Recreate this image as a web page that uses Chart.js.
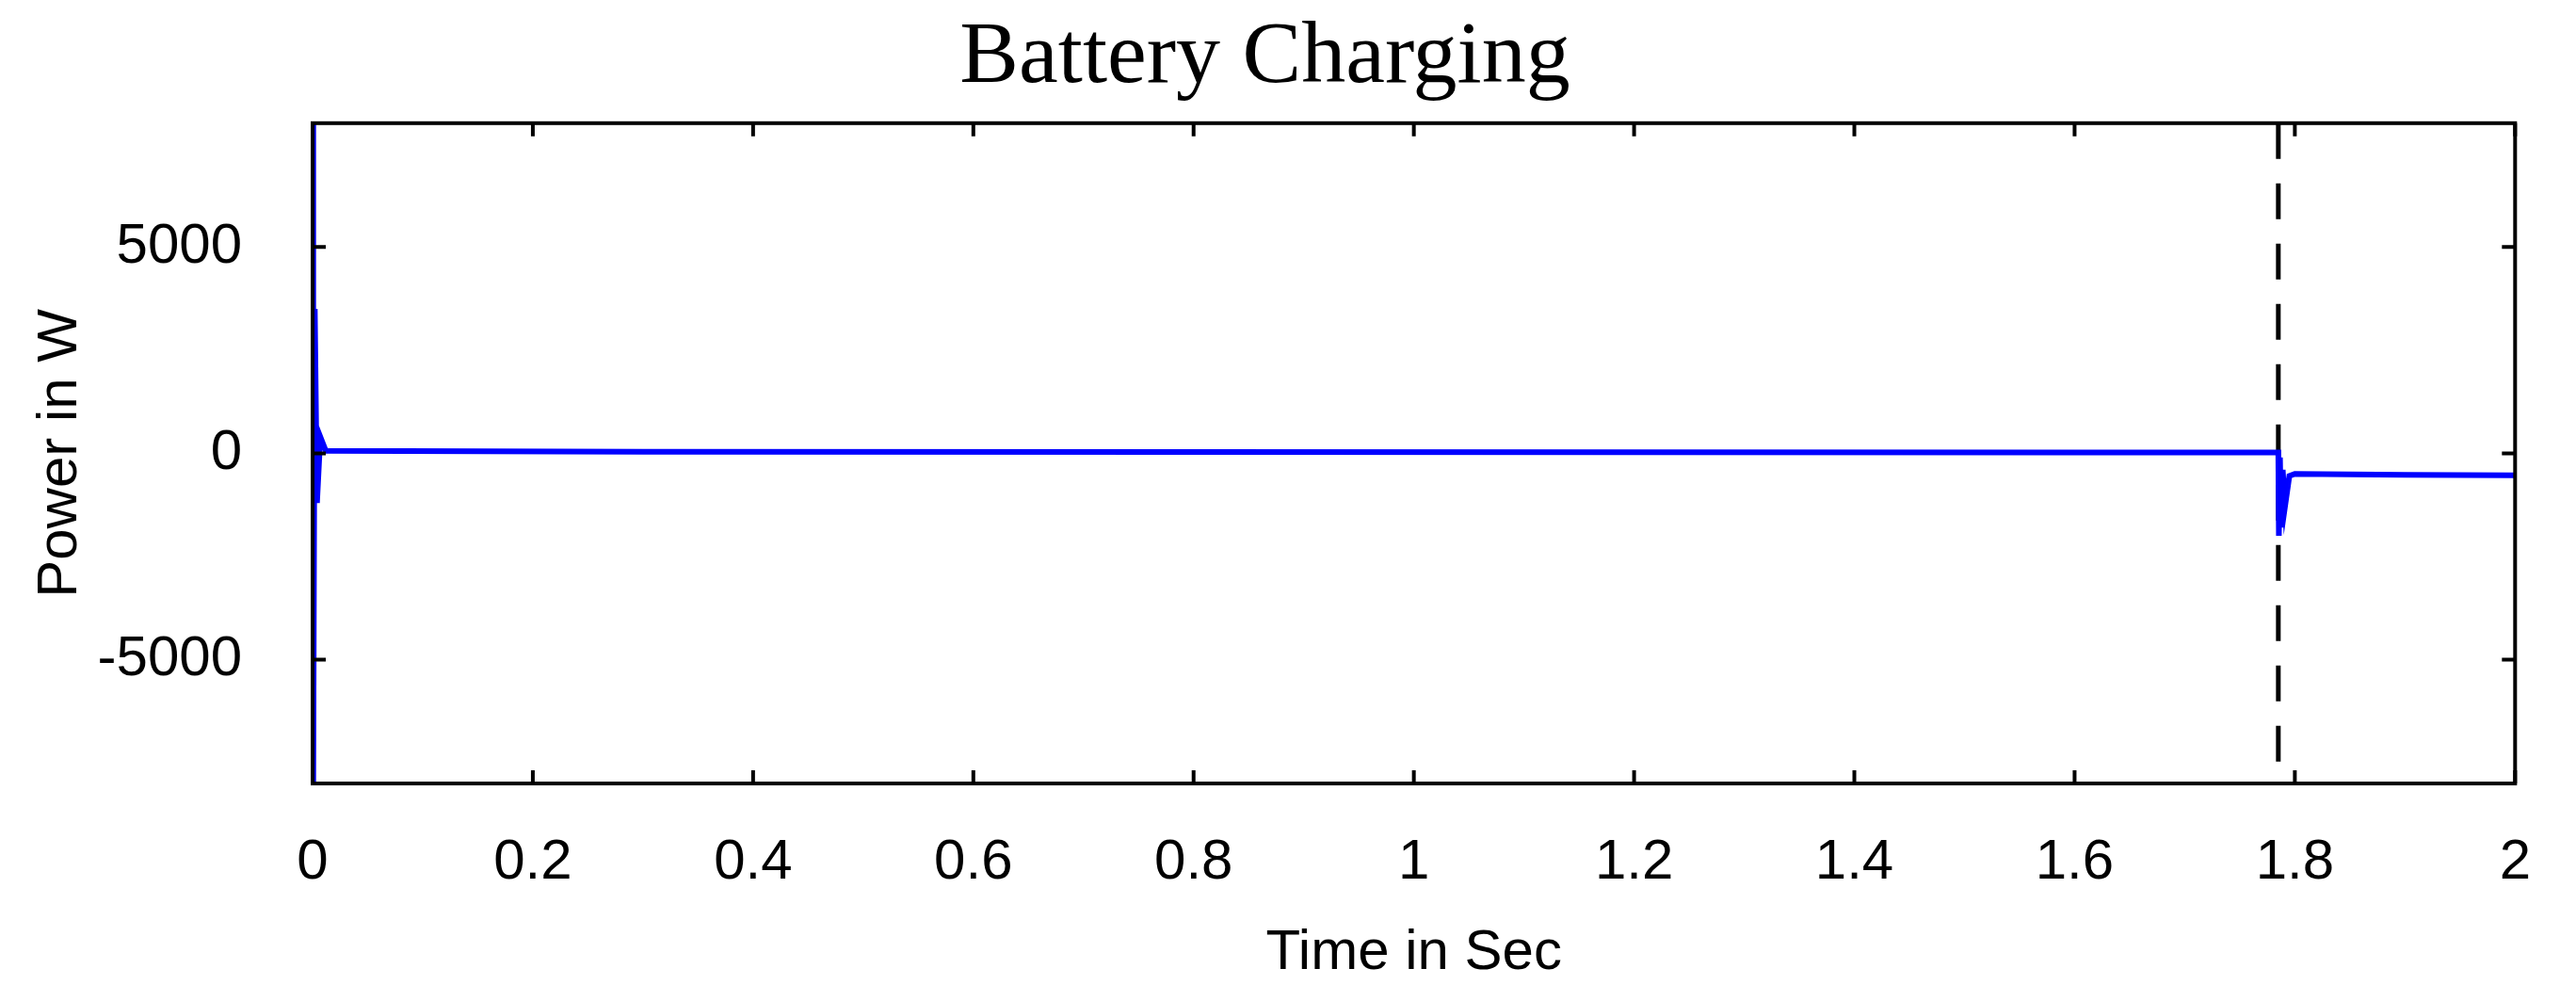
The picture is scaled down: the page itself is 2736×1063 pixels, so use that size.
<!DOCTYPE html>
<html>
<head>
<meta charset="utf-8">
<script src="https://cdn.jsdelivr.net/npm/chart.js@4"></script>
<style>
  html, body { margin: 0; padding: 0; background: #fff; }
  #wrap { width: 2736px; height: 1063px; }
</style>
</head>
<body>
<div id="wrap"><canvas id="chart"></canvas></div>
<script>
// time (s) and battery power (W)
const timeSec = [0, 0.0006, 0.002, 0.004, 0.007, 0.012, 0.3, 0.8, 1.2, 1.6, 1.785, 1.7855, 1.7865, 1.7875, 1.789, 1.791, 1.795, 1.8, 1.9, 2.0];
const powerW = [8000, -8000, 3500, -1200, 400, 60, 40, 30, 25, 20, 20, -2000, -100, -1800, -400, -1300, -550, -500, -520, -530];
const switchTime = [1.785, 1.785];
const switchLimits = [8000, -8000];
const xTicks = [0, 0.2, 0.4, 0.6, 0.8, 1, 1.2, 1.4, 1.6, 1.8, 2];
const yTicks = [-5000, 0, 5000];

const tickFont = { family: 'Liberation Sans, Arial, sans-serif', size: 60 };

// MATLAB-style box with inward ticks on all sides
const boxTicks = {
  id: 'boxTicks',
  afterDraw(chart) {
    const { ctx, chartArea: a, scales } = chart;
    const len = 14;
    ctx.save();
    ctx.strokeStyle = '#000';
    ctx.lineWidth = 4;
    ctx.strokeRect(a.left, a.top, a.right - a.left, a.bottom - a.top);
    ctx.beginPath();
    xTicks.forEach(v => {
      const x = scales.x.getPixelForValue(v);
      ctx.moveTo(x, a.bottom); ctx.lineTo(x, a.bottom - len);
      ctx.moveTo(x, a.top); ctx.lineTo(x, a.top + len);
    });
    yTicks.forEach(v => {
      const y = scales.y.getPixelForValue(v);
      ctx.moveTo(a.left, y); ctx.lineTo(a.left + len, y);
      ctx.moveTo(a.right, y); ctx.lineTo(a.right - len, y);
    });
    ctx.stroke();
    ctx.restore();
  }
};

new Chart(document.getElementById('chart'), {
  type: 'scatter',
  data: {
    datasets: [{
      data: timeSec.map((t, i) => ({ x: t, y: powerW[i] })),
      showLine: true,
      borderColor: '#0000ff',
      borderWidth: 6,
      pointRadius: 0,
      tension: 0
    }, {
      data: switchTime.map((t, i) => ({ x: t, y: switchLimits[i] })),
      showLine: true,
      borderColor: '#000',
      borderWidth: 5,
      borderDash: [38, 26],
      pointRadius: 0
    }]
  },
  plugins: [boxTicks],
  options: {
    responsive: true,
    maintainAspectRatio: false,
    animation: false,
    layout: { padding: { left: 0, right: 49, top: 0, bottom: 0 } },
    plugins: {
      legend: { display: false },
      tooltip: { enabled: false },
      title: {
        display: true,
        text: 'Battery Charging',
        color: '#000',
        font: { family: 'Liberation Serif, Times New Roman, serif', size: 94, weight: 'normal' },
        padding: { top: 6, bottom: 12 }
      }
    },
    scales: {
      x: {
        type: 'linear',
        min: 0, max: 2,
        afterBuildTicks: s => { s.ticks = xTicks.map(v => ({ value: v })); },
        afterFit: s => { s.height = 231; },
        grid: { display: false, drawTicks: false },
        border: { display: false },
        ticks: { color: '#000', font: tickFont, padding: 48, maxRotation: 0,
                 callback: v => String(Math.round(v * 10) / 10) },
        title: { display: true, text: 'Time in Sec', color: '#000', font: tickFont, padding: { top: 10, bottom: 15 } }
      },
      y: {
        min: -8000, max: 8000,
        afterBuildTicks: s => { s.ticks = yTicks.map(v => ({ value: v })); },
        afterFit: s => { s.width = 332; },
        grid: { display: false, drawTicks: false },
        border: { display: false },
        ticks: { color: '#000', font: tickFont, padding: 75, callback: v => String(v) },
        title: { display: true, text: 'Power in W', color: '#000', font: tickFont, padding: { top: 28, bottom: 0 } }
      }
    }
  }
});
</script>
</body>
</html>
